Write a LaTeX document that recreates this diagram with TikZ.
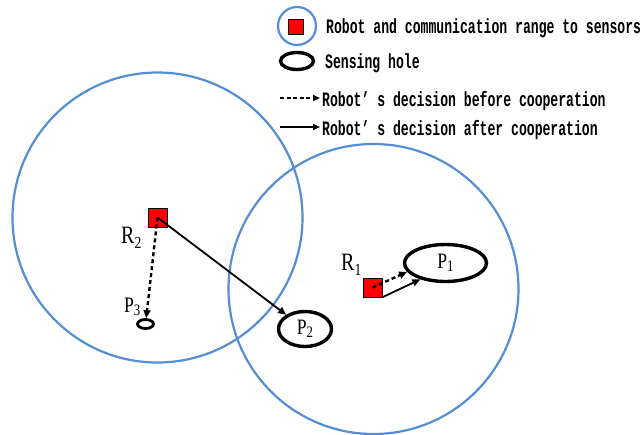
\documentclass[tikz,border=0pt]{standalone}
\usepackage{fontspec}
\usetikzlibrary{arrows.meta,shapes.geometric}
\newfontfamily\legendfont{Liberation Mono}[FakeStretch=0.64]
\newfontfamily\labelfont{Liberation Serif}[FakeStretch=0.8]
\definecolor{rangeblue}{RGB}{85,142,213}
\newcommand\plab[1]{{\labelfont\fontsize{22}{22}\selectfont P\raisebox{-3pt}{\fontsize{16}{16}\selectfont #1}}}
\newcommand\rlab[1]{{\labelfont\fontsize{25}{25}\selectfont R\raisebox{-5pt}{\fontsize{17}{17}\selectfont #1}}}
\tikzset{
  commrange/.style={draw=rangeblue, line width=2.2pt},
  robot/.style={rectangle, draw=black, line width=0.6pt, fill=red, minimum size=19pt, inner sep=0pt},
  hole/.style={ellipse, draw=black, line width=3.4pt, inner sep=0pt},
  before/.style={draw=black, line width=2.4pt, dash pattern=on 4pt off 3pt, -{Triangle[length=8pt,width=7pt]}},
  after/.style={draw=black, line width=1.8pt, -{Triangle[length=8pt,width=7pt]}},
  legendtext/.style={anchor=base west, inner sep=0pt, font=\legendfont\bfseries\fontsize{20.5}{20.5}\selectfont},
  tag/.style={anchor=base west, inner sep=0pt}
}
\begin{document}
\begin{tikzpicture}[x=1pt,y=-1pt]
\useasboundingbox (0,0) rectangle (644,434);
\fill[white] (0,0) rectangle (644,434);

% communication ranges of the two robots
\draw[commrange] (157.5,217.5) circle[radius=145];
\draw[commrange] (373.5,289) circle[radius=145];

% sensing holes
\node[hole, minimum width=82pt, minimum height=37pt] (P1) at (445.5,263) {\plab{1}};
\node[hole, minimum width=53pt, minimum height=35pt] (P2) at (305,329) {\plab{2}};
\node[hole, line width=2.8pt, minimum width=16pt, minimum height=9pt] (P3) at (145.5,324) {};
\node[tag] (P3lab) at (124,312) {\plab{3}};

% robots
\node[robot] (R2) at (157.5,217.5) {};
\node[robot] (R1) at (372.5,287.5) {};
\node[tag] (R2lab) at (121,243) {\rlab{2}};
\node[tag] (R1lab) at (341,270) {\rlab{1}};

% decisions
\draw[before] (R2.center) -- (P3);
\draw[after] (R2.center) -- (P2);
\draw[before] (R1.center) -- (P1.193);
\draw[after] (R1.south east) -- (P1.213);

% legend
\draw[commrange] (297,26) circle[radius=19];
\node[robot, minimum size=15pt] (legR) at (296,26.5) {};
\node[hole, minimum width=33pt, minimum height=17pt] (legH) at (297,61) {};
\coordinate (d0) at (280,98);
\coordinate (d1) at (320,98);
\draw[before, line width=2pt, dash pattern=on 4pt off 2.5pt, -{Triangle[length=7pt,width=6pt]}] (d0) -- (d1);
\coordinate (s0) at (280,127);
\coordinate (s1) at (320,127);
\draw[after, -{Triangle[length=7pt,width=6pt]}] (s0) -- (s1);
\node[legendtext] (t1) at (326,33) {Robot and communication range to sensors};
\node[legendtext] (t2) at (325,68) {Sensing hole};
\node[legendtext] (t3) at (322,106) {Robot’ s decision before cooperation};
\node[legendtext] (t4) at (322,135) {Robot’ s decision after cooperation};
\end{tikzpicture}
\end{document}
